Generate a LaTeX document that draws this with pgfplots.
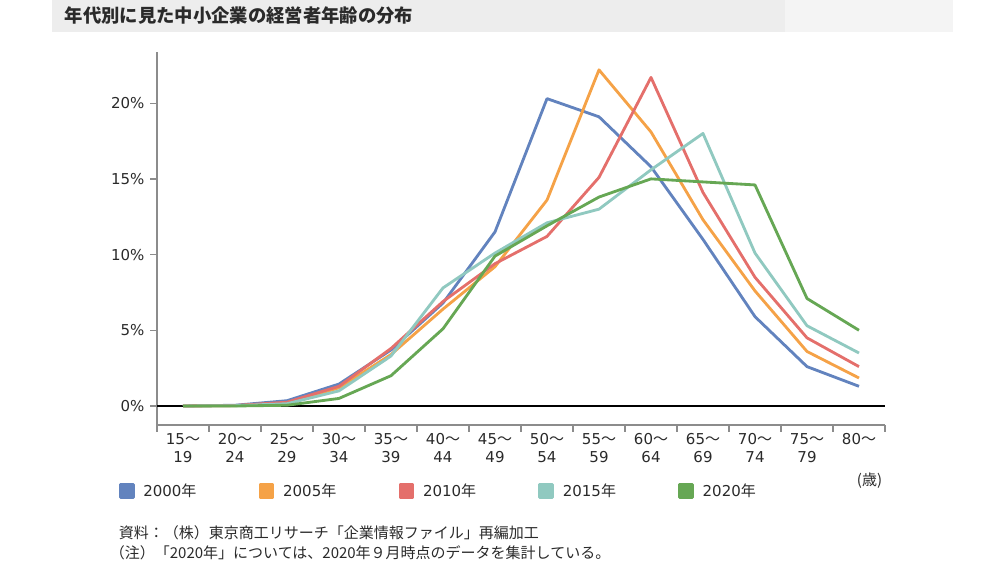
\documentclass[border=0pt]{standalone}
\usepackage{fontspec}
\setmainfont{DejaVu Sans}
\newfontfamily\cjk{Noto Sans CJK JP}
\usepackage{pgfplots}
\pgfplotsset{compat=1.18}

\definecolor{c2000}{HTML}{6283BE}
\definecolor{c2005}{HTML}{F5A247}
\definecolor{c2010}{HTML}{E46F6B}
\definecolor{c2015}{HTML}{90C9C0}
\definecolor{c2020}{HTML}{66A754}
\definecolor{txt}{HTML}{2A2A2A}
\definecolor{axgray}{HTML}{8C8C8C}
\definecolor{titlebg}{HTML}{EDEDED}
\definecolor{titlebg2}{HTML}{F4F4F4}

\newcommand\lbl{\fontsize{9}{11}\selectfont}

\begin{document}
\begin{tikzpicture}[x=0.6pt,y=0.6pt]
\path[use as bounding box] (0,0) rectangle (1000,563);
% title bar
\fill[titlebg] (52,531) rectangle (785,563);
\fill[titlebg2] (785,531) rectangle (953,563);
\node[anchor=west, text=txt, font=\cjk\bfseries\fontsize{11}{12}\selectfont] at (59,547)
  {年代別に見た中小企業の経営者年齢の分布};

\begin{axis}[
    at={(94.2pt,82.8pt)}, anchor=south west,
    scale only axis, width=436.8pt, height=223.8pt,
    xmin=-0.5, xmax=13.5, ymin=-1.255, ymax=23.38,
    axis x line=bottom, axis y line=left,
    axis line style={draw=axgray, line width=0.9pt, -},
    tick style={draw=axgray, line width=0.8pt},
    tick align=outside, major tick length=4pt,
    xtick={-0.5,0.5,...,13.5}, xticklabels={},
    extra x ticks={0,...,13},
    extra x tick style={major tick length=0pt},
    extra x tick labels={{15{\cjk ～}\\19},{20{\cjk ～}\\24},{25{\cjk ～}\\29},{30{\cjk ～}\\34},
      {35{\cjk ～}\\39},{40{\cjk ～}\\44},{45{\cjk ～}\\49},{50{\cjk ～}\\54},{55{\cjk ～}\\59},
      {60{\cjk ～}\\64},{65{\cjk ～}\\69},{70{\cjk ～}\\74},{75{\cjk ～}\\79},{80{\cjk ～}\\\strut}},
    xticklabel style={font=\lbl, text=txt, align=center, yshift=-1.5pt},
    ytick={0,5,10,15,20},
    yticklabel={\pgfmathprintnumber{\tick}\%},
    yticklabel style={font=\lbl, text=txt},
    /pgf/number format/assume math mode=true,
    legend columns=5,
    legend style={at={(axis description cs:-0.0529,-0.177)}, anchor=west,
      draw=none, fill=none, inner sep=0pt, font=\lbl, text=txt,
      /tikz/every even column/.append style={column sep=35.3pt}},
    legend image code/.code={\fill[#1] (0pt,-3.9pt) rectangle (7.8pt,3.9pt);
      \path (0pt,0pt) (11pt,0pt);},
    every axis plot/.append style={line width=1.7pt, line join=round},
]
\draw[black, line width=1.2pt] (axis cs:-0.5,0) -- (axis cs:13.5,0);
\addplot[c2000] coordinates {
  (0,0.0) (1,0.05) (2,0.35) (3,1.45) (4,3.7) (5,6.8) (6,11.5) (7,20.3)
  (8,19.1) (9,15.8) (10,11.0) (11,5.9) (12,2.6) (13,1.3)};
\addlegendentry{2000{\cjk 年}}
\addplot[c2005] coordinates {
  (0,0.0) (1,0.02) (2,0.2) (3,1.2) (4,3.4) (5,6.4) (6,9.2) (7,13.6)
  (8,22.2) (9,18.1) (10,12.3) (11,7.6) (12,3.6) (13,1.85)};
\addlegendentry{2005{\cjk 年}}
\addplot[c2010] coordinates {
  (0,0.0) (1,0.03) (2,0.25) (3,1.3) (4,3.8) (5,6.9) (6,9.4) (7,11.2)
  (8,15.1) (9,21.7) (10,14.1) (11,8.5) (12,4.5) (13,2.6)};
\addlegendentry{2010{\cjk 年}}
\addplot[c2015] coordinates {
  (0,0.0) (1,0.02) (2,0.15) (3,1.0) (4,3.3) (5,7.8) (6,10.1) (7,12.1)
  (8,13.0) (9,15.6) (10,18.0) (11,10.1) (12,5.3) (13,3.5)};
\addlegendentry{2015{\cjk 年}}
\addplot[c2020] coordinates {
  (0,0.0) (1,0.0) (2,0.05) (3,0.5) (4,2.0) (5,5.1) (6,9.9) (7,11.9)
  (8,13.8) (9,15.0) (10,14.8) (11,14.6) (12,7.1) (13,5.0)};
\addlegendentry{2020{\cjk 年}}
\end{axis}

\node[anchor=east, text=txt, font=\cjk\lbl] at (888,82) {(歳)};
\node[anchor=west, text=txt, font=\cjk\fontsize{9}{10}\selectfont] at (113,30)
  {資料：（株）東京商工リサーチ「企業情報ファイル」再編加工};
\node[anchor=west, text=txt, font=\cjk\fontsize{9}{10}\selectfont] at (104,10)
  {（注）「2020年」については、2020年９月時点のデータを集計している。};
\end{tikzpicture}
\end{document}
